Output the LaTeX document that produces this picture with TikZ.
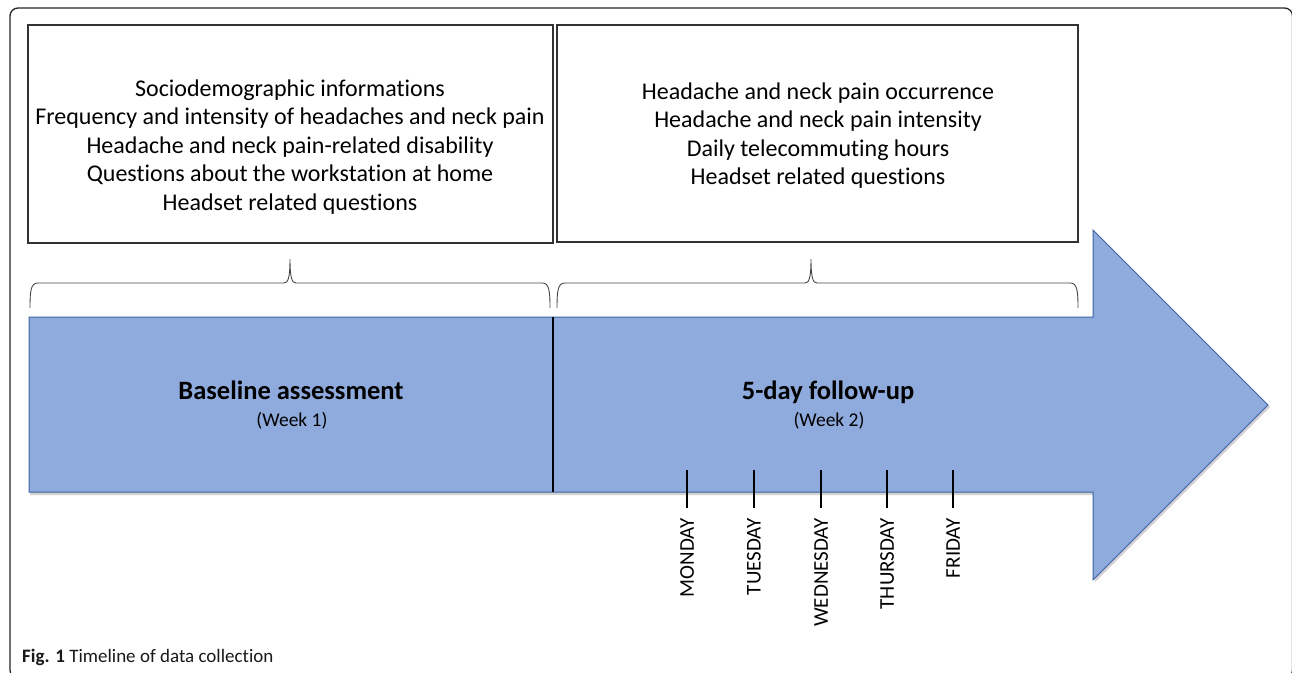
\documentclass[tikz,border=0pt]{standalone}
\usepackage{fontspec}
\setmainfont[Ligatures={NoCommon,NoRare,NoContextual}]{Carlito}
\definecolor{arrowfill}{RGB}{143,170,220}
\definecolor{arrowline}{RGB}{60,100,165}
\definecolor{boxline}{RGB}{50,50,50}
\definecolor{braceline}{RGB}{70,70,70}
\tikzset{
  infobox/.style={draw=boxline, line width=1.2pt, fill=white, inner sep=0pt},
  infotext/.style={align=center, inner sep=0pt, font=\fontsize{24}{28.5}\selectfont},
  phasetitle/.style={inner sep=0pt, anchor=base, font=\bfseries\fontsize{26.5}{30}\selectfont},
  phaseweek/.style={inner sep=0pt, anchor=base, font=\fontsize{19.5}{22}\selectfont},
  daytick/.style={line width=1.5pt, black},
  daylabel/.style={rotate=90, anchor=east, inner sep=0pt, font=\fontsize{21}{24}\selectfont},
  bracepath/.style={draw=braceline, line width=0.9pt},
  arrowshape/.style={fill=arrowfill, draw=arrowline, line width=1pt, line join=miter},
}
\begin{document}
\begin{tikzpicture}[x=1pt,y=-1pt]
\useasboundingbox (0,0) rectangle (1292,672);
% outer frame
\draw[black!85, line width=1.3pt, rounded corners=8pt] (10,8) rectangle (1292.5,678);

% big arrow shadow + shape
\fill[black, opacity=0.18] (30,319) -- (1095,319) -- (1095,232) -- (1270,407) -- (1095,582) -- (1095,495) -- (30,495) -- cycle;
\path[arrowshape] (29,317) coordinate (abl) -- (1093,317) -- (1093,230) -- (1268,405) coordinate (tip) -- (1093,580) -- (1093,492) -- (29,492) -- cycle;

% divider
\coordinate (divtop) at (553,317);
\coordinate (divbot) at (553,492);
\draw[line width=1.5pt, black] (divtop) -- (divbot);

% info boxes
\node[infobox, minimum width=525pt, minimum height=218pt] (boxA) at (290.5,134) {};
\node[infobox, minimum width=521pt, minimum height=217pt] (boxB) at (817.5,133.5) {};
\node[infotext] (textA) at (290,147) {Sociodemographic informations\\Frequency and intensity of headaches and neck pain\\Headache and neck pain-related disability\\Questions about the workstation at home\\Headset related questions};
\node[infotext] (textB) at (818,135.5) {Headache and neck pain occurrence\\Headache and neck pain intensity\\Daily telecommuting hours\\Headset related questions};

% braces
\coordinate (braceAtip) at (290,259);
\coordinate (braceBtip) at (811,259);
\draw[bracepath] (30,308) .. controls (30,290) and (31,283) .. (38,283) -- (284,283) .. controls (288,283) and (290,278) .. (braceAtip) .. controls (290,278) and (292,283) .. (296,283) -- (542,283) .. controls (549,283) and (550,290) .. (550,308);
\draw[bracepath] (557,308) .. controls (557,290) and (558,283) .. (565,283) -- (805,283) .. controls (809,283) and (811,278) .. (braceBtip) .. controls (811,278) and (813,283) .. (817,283) -- (1070,283) .. controls (1077,283) and (1078,290) .. (1078,308);

% phase labels
\node[phasetitle] (baseT) at (291,399) {Baseline assessment};
\node[phaseweek] (baseW) at (292,426) {(Week 1)};
\node[phasetitle] (follT) at (828,399) {5-day follow-up};
\node[phaseweek] (follW) at (829,426) {(Week 2)};

% day ticks
\foreach \nm/\lab/\xx in {mon/MONDAY/687, tue/TUESDAY/754, wed/WEDNESDAY/821, thu/THURSDAY/887, fri/FRIDAY/953}{
  \coordinate (\nm top) at (\xx,470);
  \coordinate (\nm bot) at (\xx,508);
  \draw[daytick] (\nm top) -- (\nm bot);
  \node[daylabel] (\nm lab) at (\xx,518) {\lab};
}

% caption
\node[anchor=base west, inner sep=0pt, font=\fontsize{19}{22}\selectfont, text=black!90] (caption) at (22,662) {\textbf{Fig. 1} Timeline of data collection};
\end{tikzpicture}
\end{document}
